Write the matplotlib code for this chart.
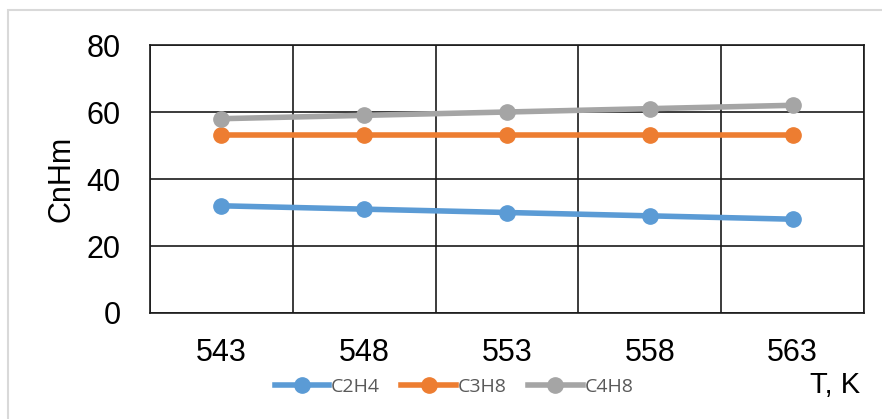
import matplotlib.pyplot as plt
from matplotlib.patches import Rectangle

#Chart data
temps = ['543', '548', '553', '558', '563']
c2h4 = [32, 31, 30, 29, 28]
c3h8 = [53, 53, 53, 53, 53]
c4h8 = [58, 59, 60, 61, 62]

plt.rcParams['font.family'] = ['Liberation Sans', 'DejaVu Sans']

fig = plt.figure(figsize=(8.82, 4.19), dpi=100)
W, H = 882, 419
ax = fig.add_axes([150 / W, 1 - 313 / H, (864 - 150) / W, (313 - 45) / H])

#Outer chart border
fig.patches.append(Rectangle((8 / W, -0.1), 1.2, 1 - 10 / H + 0.1, transform=fig.transFigure,
                             fill=False, edgecolor='#d9d9d9', linewidth=1.5))

x = list(range(len(temps)))
ax.plot(x, c2h4, color='#5B9BD5', lw=4, marker='o', ms=11, label='C2H4', zorder=3)
ax.plot(x, c3h8, color='#ED7D31', lw=4, marker='o', ms=11, label='C3H8', zorder=3)
ax.plot(x, c4h8, color='#A5A5A5', lw=4, marker='o', ms=11, label='C4H8', zorder=3)

ax.set_xlim(-0.5, len(temps) - 0.5)
ax.set_ylim(0, 80)
ax.set_yticks([0, 20, 40, 60, 80])
ax.set_xticks(x)
ax.set_xticklabels(temps)
ax.set_xticks([i - 0.5 for i in range(len(temps) + 1)], minor=True)
ax.grid(which='minor', axis='x', color='#1a1a1a', lw=1.2)
ax.grid(which='major', axis='y', color='#1a1a1a', lw=1.2)
ax.tick_params(which='both', length=0, labelsize=22, colors='black')
ax.tick_params(axis='x', pad=18)
ax.tick_params(axis='y', pad=21)
for s in ax.spines.values():
    s.set_color('#1a1a1a')
    s.set_linewidth(1.2)

ax.set_ylabel('CnHm', fontsize=22)
ax.yaxis.set_label_coords(-0.103, 0.5)
fig.text(860 / W, 1 - 385 / H, 'T, K', fontsize=21, ha='right', va='center')

leg = fig.legend(loc='center', bbox_to_anchor=(454 / W, 1 - 387 / H), ncol=3, frameon=False,
                 handlelength=2.8, columnspacing=1.1, handletextpad=0.1,
                 prop={'family': ['Open Sans', 'DejaVu Sans'], 'size': 14})
for t in leg.get_texts():
    t.set_color('#595959')

fig.savefig('out.png', dpi=100)
